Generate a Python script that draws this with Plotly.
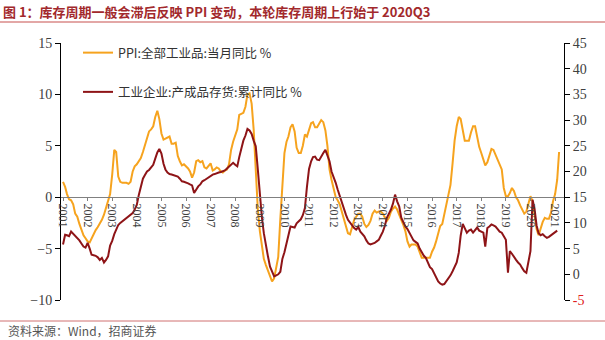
import plotly.graph_objects as go
import pandas as pd

months = pd.date_range("2001-01-01", "2021-03-01", freq="MS")

ppi = [
    1.5, 1.0, 0.3, -0.2, -0.3, -0.7, -1.6, -1.9, -2.6, -3.2, -3.7, -4.0,
    -4.3, -4.4, -4.0, -3.5, -3.2, -2.9, -2.6, -2.2, -1.7, -1.1, -0.4, 0.3,
    2.2, 4.6, 4.4, 2.0, 1.5, 1.4, 1.4, 1.4, 1.3, 1.5, 2.5, 3.0,
    3.2, 3.5, 3.8, 4.4, 5.0, 5.8, 6.4, 6.6, 6.9, 7.8, 8.4, 7.6,
    6.2, 5.6, 5.7, 5.8, 5.9, 5.2, 5.2, 5.3, 4.0, 3.5, 3.1, 3.2,
    3.0, 2.8, 2.5, 1.9, 2.4, 3.5, 3.6, 3.4, 3.5, 2.9, 2.8, 3.1,
    3.3, 2.6, 2.7, 2.9, 2.8, 2.5, 2.4, 2.6, 2.7, 3.2, 4.6, 5.4,
    6.1, 6.6, 8.0, 8.1, 8.2, 8.8, 10.0, 10.1, 9.1, 6.6, 2.0, -1.1,
    -3.3, -4.5, -6.0, -6.6, -7.2, -7.8, -8.2, -7.9, -7.0, -5.8, -2.1, 1.7,
    4.3, 5.4, 5.9, 6.8, 7.1, 6.4, 4.8, 4.3, 4.3, 5.0, 6.1, 5.9,
    6.6, 7.2, 7.3, 6.8, 6.8, 7.1, 7.5, 7.3, 6.5, 5.0, 2.7, 1.7,
    0.7, 0.0, -0.3, -0.7, -1.4, -2.1, -2.9, -3.5, -3.6, -2.8, -2.2, -1.9,
    -1.6, -1.6, -1.9, -2.6, -2.9, -2.7, -2.3, -1.6, -1.3, -1.5, -1.4, -1.4,
    -1.6, -2.0, -2.3, -2.0, -1.4, -1.1, -0.9, -1.2, -1.8, -2.2, -2.7, -3.3,
    -4.3, -4.8, -4.6, -4.6, -4.6, -4.8, -5.4, -5.9, -5.9, -5.9, -5.9, -5.9,
    -5.3, -4.9, -4.3, -3.4, -2.8, -2.6, -1.7, -0.8, 0.1, 1.2, 3.3, 5.5,
    6.9, 7.8, 7.6, 6.4, 5.5, 5.5, 5.5, 6.3, 6.9, 6.9, 5.8, 4.9,
    4.3, 3.7, 3.1, 3.4, 4.1, 4.7, 4.6, 4.1, 3.6, 3.3, 2.7, 0.9,
    0.1, 0.1, 0.4, 0.9, 0.6, 0.0, -0.3, -0.8, -1.2, -1.6, -1.4, -0.5,
    0.1, -0.4, -1.5, -3.1, -3.7, -3.0, -2.4, -2.0, -2.1, -2.1, -1.5, -0.4,
    0.3, 1.7, 4.4,
]

inventory = [
    5.8, 7.7, 7.6, 7.4, 8.3, 7.9, 7.5, 7.2, 6.6, 6.0, 5.4, 5.2,
    6.1, 5.0, 3.8, 3.7, 3.6, 3.3, 2.8, 3.2, 2.3, 2.8, 3.5, 5.6,
    6.5, 7.8, 8.6, 9.6, 10.0, 10.3, 10.6, 10.9, 11.2, 11.5, 11.9, 12.6,
    13.5, 15.5, 17.3, 18.6, 19.3, 20.0, 20.3, 20.8, 21.3, 22.5, 23.7, 24.4,
    23.5, 21.5, 20.4, 19.8, 19.5, 19.4, 19.3, 19.1, 19.0, 18.6, 18.1, 18.0,
    17.9, 17.7, 17.5, 17.3, 15.8, 16.5, 17.1, 17.5, 18.1, 18.3, 18.6, 18.9,
    19.2, 19.4, 19.5, 19.7, 19.8, 19.9, 20.0, 20.2, 20.6, 21.0, 21.4, 21.7,
    21.3, 21.0, 22.8, 24.5, 26.0, 27.0, 28.3, 28.0, 27.3, 26.0, 24.9, 20.5,
    15.2, 11.0, 8.0, 5.5, 3.5, 1.5, 0.5, -0.4, -0.2, 0.0, 0.5, 3.0,
    4.3, 6.0, 7.8, 9.3, 9.2, 9.1, 9.9, 10.3, 10.7, 11.5, 12.9, 17.0,
    20.5, 22.0, 22.8, 22.9, 22.3, 22.2, 23.0, 23.6, 24.2, 23.2, 22.0, 20.0,
    19.0, 17.8, 16.5, 15.2, 14.0, 12.8, 11.6, 10.6, 10.0, 9.4, 9.0, 8.7,
    9.2, 8.3, 7.8, 7.4, 6.6, 6.0, 5.8, 5.9, 6.1, 6.4, 6.7, 7.5,
    8.3, 9.5, 11.0, 11.8, 12.6, 13.8, 15.5, 14.2, 13.2, 11.0, 10.0, 9.3,
    8.8, 8.0, 7.3, 6.6, 6.3, 6.0, 5.0, 4.2, 3.6, 3.2, 2.3, 1.4,
    1.0, 0.2, -0.6, -1.4, -1.8, -2.0, -1.9, -1.4, -0.8, -0.2, 0.6, 1.3,
    2.3, 4.2, 7.5, 9.8, 8.8, 8.1, 8.5, 8.7, 8.1, 8.5, 9.1, 8.5,
    8.3, 8.1, 5.4, 9.0, 9.3, 9.7, 9.5, 9.3, 8.8, 8.3, 8.1, 7.4,
    6.7, 0.3, 4.5, 4.0, 3.3, 2.8, 2.3, 1.9, 1.2, 0.6, 0.3, 2.5,
    4.5, 14.5, 12.8, 9.5, 8.0, 7.6, 7.8, 7.4, 7.1, 7.3, 7.6, 8.0,
    8.3, 8.5, None,
]

year_ticks = [f"{y}-01-01" for y in range(2001, 2022)]
year_labels = [str(y) for y in range(2001, 2022)]
left_ticks = [-10, -5, 0, 5, 10, 15]
right_ticks = [-5, 0, 5, 10, 15, 20, 25, 30, 35, 40, 45]

name_ppi = "PPI:全部工业品:当月同比 %"
name_inv = "工业企业:产成品存货:累计同比 %"
title_text = "图 1：库存周期一般会滞后反映 PPI 变动，本轮库存周期上行始于 2020Q3"
source_text = "资料来源：Wind，招商证券"

ORANGE = "#F6A31E"
DARKRED = "#8E1417"
SERIF = "Liberation Serif"
CJK = "Noto Sans CJK SC"

fig = go.Figure()
fig.add_trace(go.Scatter(x=months, y=ppi, name=name_ppi, mode="lines",
                         line=dict(color=ORANGE, width=2), yaxis="y",
                         legendgroup="a"))
fig.add_trace(go.Scatter(x=months, y=inventory, name=name_inv, mode="lines",
                         line=dict(color=DARKRED, width=2), yaxis="y2",
                         legendgroup="b"))

right_text = [f'<span style="color:#E02020">{v}</span>' if v < 0 else str(v)
              for v in right_ticks]

W, H = 605, 340
L, R, T, B = 61, 564, 43, 300
pw, ph = R - L, B - T

def px(x):
    return (x - L) / pw

def py(y):
    return (B - y) / ph

fig.update_layout(
    width=W, height=H,
    margin=dict(l=L, r=W - R, t=T, b=H - B),
    paper_bgcolor="white", plot_bgcolor="white",
    showlegend=True,
    legend=dict(x=px(78), y=py(38), xanchor="left", yanchor="top",
                bgcolor="rgba(0,0,0,0)", tracegroupgap=20,
                font=dict(family=CJK, size=12.5, color="#333333"),
                itemwidth=30),
    xaxis=dict(
        type="date",
        range=["2000-12-02", "2021-05-13"],
        tickvals=year_ticks, ticktext=year_labels,
        tickangle=90,
        anchor="free", position=10 / 25,
        showline=True, linecolor="#808080", linewidth=1,
        ticks="outside", ticklen=3, tickcolor="#808080",
        showgrid=False, zeroline=False,
        tickfont=dict(family=SERIF, size=12, color="#404040"),
    ),
    yaxis=dict(
        range=[-10, 15], tickvals=left_ticks,
        showline=True, linecolor="#000000", linewidth=1,
        ticks="outside", ticklen=5, tickcolor="#000000",
        showgrid=False, zeroline=False,
        tickfont=dict(family=SERIF, size=14, color="#404040"),
    ),
    yaxis2=dict(
        range=[-5, 45], tickvals=right_ticks, ticktext=right_text,
        overlaying="y", side="right",
        showline=True, linecolor="#000000", linewidth=1,
        ticks="outside", ticklen=5, tickcolor="#000000",
        showgrid=False, zeroline=False,
        tickfont=dict(family=SERIF, size=14, color="#404040"),
    ),
)

fig.add_annotation(xref="paper", yref="paper", x=px(1), y=py(11),
                   xanchor="left", yanchor="middle", showarrow=False,
                   text=f"<b>{title_text}</b>",
                   font=dict(family=CJK, size=13, color="#A2292C"))
fig.add_annotation(xref="paper", yref="paper", x=px(6), y=py(330),
                   xanchor="left", yanchor="middle", showarrow=False,
                   text=source_text,
                   font=dict(family=CJK, size=12, color="#555555"))
fig.add_shape(type="line", xref="paper", yref="paper",
              x0=px(0), x1=px(605), y0=py(22), y1=py(22),
              line=dict(color="#C8504F", width=1.2))
fig.add_shape(type="line", xref="paper", yref="paper",
              x0=px(0), x1=px(605), y0=py(321), y1=py(321),
              line=dict(color="#D07070", width=1))

fig.write_html("out.html")
